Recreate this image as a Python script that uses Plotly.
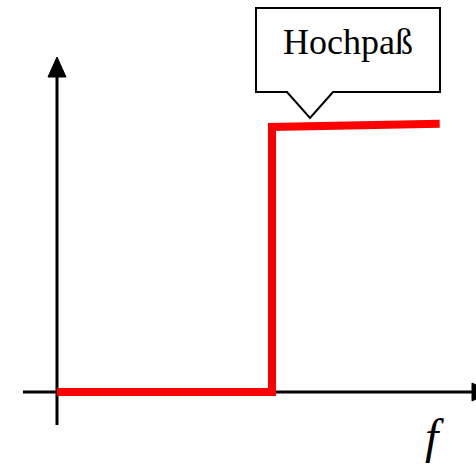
import plotly.graph_objects as go

# Data: normalized frequency vs. amplitude (ideal high-pass)
freq = [0, 1, 1, 1.78]
gain = [0, 0, 1, 1.012]
label_box = "Hochpaß"
axis_label = "f"

W, H = 476, 464
# pixel <-> data mapping (x: 0 at px57, 1 at px272 ; y: 0 at px392, 1 at px127)
X0, XS = 57, 215.0
Y0, YS = 392, 265.0
def dx(px): return (px - X0) / XS
def dy(py): return (Y0 - py) / YS

fig = go.Figure()
fig.add_trace(go.Scatter(x=freq, y=gain, mode="lines",
                         line=dict(color="#ff0000", width=8), hoverinfo="skip"))

shapes = []
# vertical axis
shapes.append(dict(type="line", xref="x", yref="y", x0=0, x1=0, y0=dy(425), y1=dy(74),
                   line=dict(color="black", width=3), layer="below"))
shapes.append(dict(type="path", xref="x", yref="y",
                   path=f"M {dx(57)},{dy(57)} L {dx(48)},{dy(77)} L {dx(66)},{dy(77)} Z",
                   fillcolor="black", line=dict(color="black", width=1)))
# horizontal axis
shapes.append(dict(type="line", xref="x", yref="y", x0=dx(23), x1=dx(476), y0=0, y1=0,
                   line=dict(color="black", width=3), layer="below"))
shapes.append(dict(type="path", xref="x", yref="y",
                   path=f"M {dx(491)},{dy(392)} L {dx(472)},{dy(383)} L {dx(472)},{dy(401)} Z",
                   fillcolor="black", line=dict(color="black", width=1)))
# callout box
pts = [(256, 8), (440, 8), (440, 92), (333, 92), (310, 118), (287, 92), (256, 92)]
path = "M " + " L ".join(f"{dx(a)},{dy(b)}" for a, b in pts) + " Z"
shapes.append(dict(type="path", xref="x", yref="y", path=path,
                   fillcolor="white", line=dict(color="black", width=2)))

fig.update_layout(
    width=W, height=H, autosize=False,
    margin=dict(l=0, r=0, t=0, b=0),
    paper_bgcolor="white", plot_bgcolor="white",
    showlegend=False,
    xaxis=dict(range=[dx(0), dx(W)], visible=False, fixedrange=True),
    yaxis=dict(range=[dy(H), dy(0)], visible=False, fixedrange=True),
    shapes=shapes,
    annotations=[
        dict(x=dx(348), y=dy(42), xref="x", yref="y", text=label_box, showarrow=False,
             font=dict(family="Liberation Serif", size=36, color="black"),
             xanchor="center", yanchor="middle"),
        dict(x=dx(434), y=dy(436), xref="x", yref="y", text=axis_label, showarrow=False,
             font=dict(family="Liberation Serif", size=48, color="black", style="italic"),
             xanchor="center", yanchor="middle"),
    ],
)
fig.write_html("out.html", config={"displayModeBar": False},
               post_script="document.body.style.margin='0';document.body.style.overflow='hidden';")
